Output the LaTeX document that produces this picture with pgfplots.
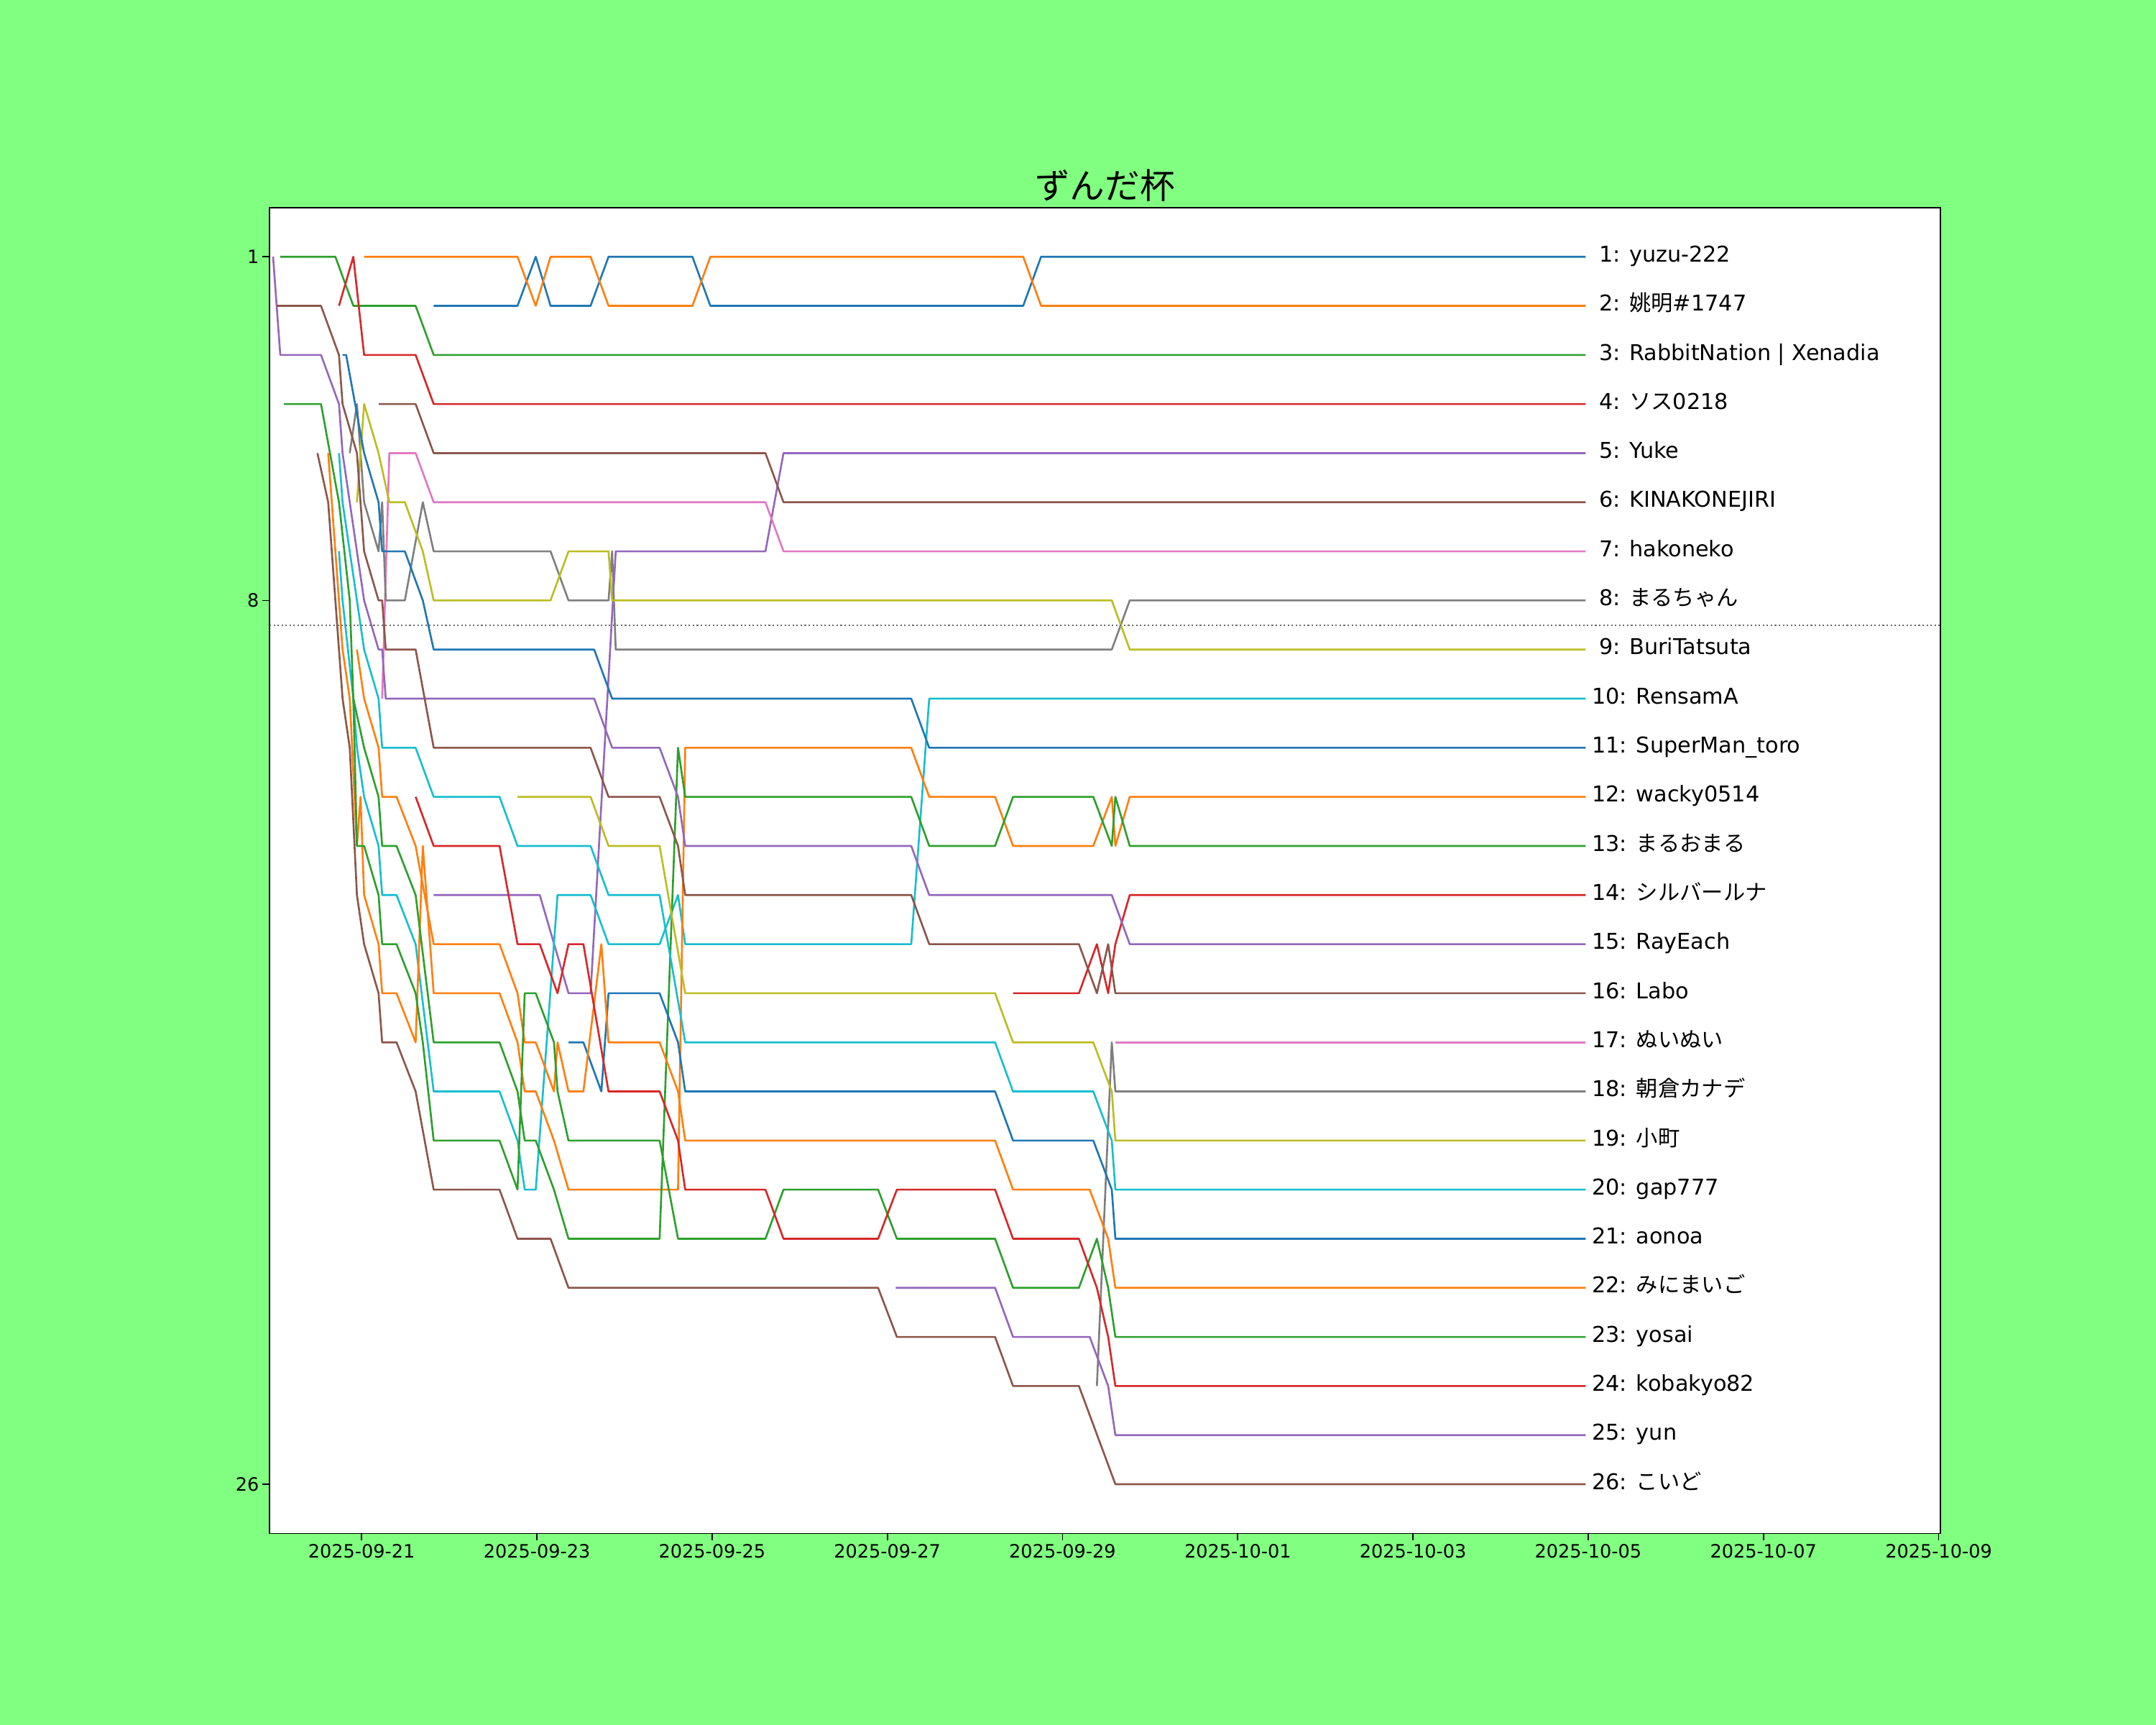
\documentclass[border=0pt]{standalone}
\usepackage{fontspec}
\setmainfont{DejaVu Sans}
\newfontfamily\cjk{Noto Sans CJK JP}
\usepackage{pgfplots}
\pgfplotsset{compat=1.18}
\definecolor{bgc}{HTML}{80FF80}
\definecolor{c0}{HTML}{1F77B4}
\definecolor{c1}{HTML}{FF7F0E}
\definecolor{c2}{HTML}{2CA02C}
\definecolor{c3}{HTML}{D62728}
\definecolor{c4}{HTML}{9467BD}
\definecolor{c5}{HTML}{8C564B}
\definecolor{c6}{HTML}{E377C2}
\definecolor{c7}{HTML}{7F7F7F}
\definecolor{c8}{HTML}{BCBD22}
\definecolor{c9}{HTML}{17BECF}
\newcommand{\lab}[2]{\node[anchor=base west, inner sep=0pt, font=\fontsize{10.9}{13}\selectfont, yshift=-2.6pt] at (axis cs:14.04,#1) {#2};}
\newcommand{\padsp}{\hspace*{0.318em}}
\begin{document}
\begin{tikzpicture}
\useasboundingbox (-135pt,-96pt) rectangle (945pt,768pt);
\fill[bgc] (-135pt,-96pt) rectangle (945pt,768pt);
\begin{axis}[
  at={(0pt,0pt)}, anchor=south west,
  scale only axis, width=837pt, height=664pt,
  xmin=-1.052, xmax=18.02, ymin=0, ymax=27, y dir=reverse,
  axis background/.style={fill=white},
  axis line style={line width=0.6pt},
  xtick={0,2,4,6,8,10,12,14,16,18},
  xticklabels={2025-09-21,2025-09-23,2025-09-25,2025-09-27,2025-09-29,2025-10-01,2025-10-03,2025-10-05,2025-10-07,2025-10-09},
  ytick={1,8,26}, yticklabels={1,8,26},
  tick align=outside, tick pos=left, major tick length=3.5pt,
  every tick/.style={black, line width=0.6pt},
  ticklabel style={font=\fontsize{9.2}{11}\selectfont},
  xticklabel style={yshift=1.5pt},
  yticklabel style={xshift=1.8pt},
  clip=false, no markers,
  every axis plot/.append style={line width=0.95pt, line join=round},
]
% 1 yuzu-222
\addplot[c0] coordinates {(0.822,2) (1.779,2) (1.987,1) (2.156,2) (2.613,2) (2.818,1) (3.775,1) (3.980,2) (7.551,2) (7.755,1) (13.97,1)};
% 2
\addplot[c1] coordinates {(0.028,1) (1.779,1) (1.987,2) (2.156,1) (2.613,1) (2.818,2) (3.775,2) (3.980,1) (7.551,1) (7.755,2) (13.97,2)};
% 3
\addplot[c2] coordinates {(-0.929,1) (-0.300,1) (-0.095,2) (0.616,2) (0.822,3) (13.97,3)};
% 4
\addplot[c3] coordinates {(-0.259,2) (-0.095,1) (0.028,3) (0.616,3) (0.822,4) (13.97,4)};
% 5 Yuke
\addplot[c4] coordinates {(0.822,14) (2.033,14) (2.361,16) (2.613,16) (2.900,7) (4.609,7) (4.815,5) (13.97,5)};
% 6 KINAKONEJIRI
\addplot[c5] coordinates {(0.193,4) (0.616,4) (0.822,5) (4.609,5) (4.815,6) (13.97,6)};
% 7 hakoneko
\addplot[c6] coordinates {(0.234,10) (0.316,5) (0.616,5) (0.822,6) (4.609,6) (4.815,7) (13.97,7)};
% 8 marucyan
\addplot[c7] coordinates {(-0.136,5) (-0.054,4) (0.028,6) (0.193,7) (0.234,6) (0.275,8) (0.493,8) (0.698,6) (0.822,7) (2.156,7) (2.361,8) (2.818,8) (2.859,7) (2.900,9) (8.562,9) (8.767,8) (13.97,8)};
% 9 BuriTatsuta
\addplot[c8] coordinates {(-0.054,6) (0.028,4) (0.193,5) (0.316,6) (0.493,6) (0.698,7) (0.822,8) (2.156,8) (2.361,7) (2.818,7) (2.859,8) (8.562,8) (8.767,9) (13.97,9)};
% 10 RensamA
\addplot[c9] coordinates {(-0.259,7) (-0.218,8) (-0.095,10) (-0.054,11) (0.028,12) (0.193,13) (0.234,14) (0.398,14) (0.616,15) (0.822,18) (1.574,18) (1.779,19) (1.861,20) (1.987,20) (2.236,14) (2.613,14) (2.818,15) (3.401,15) (3.611,14) (3.693,15) (6.273,15) (6.478,10) (13.97,10)};
% 11 SuperMan_toro
\addplot[c0] coordinates {(-0.218,3) (-0.177,3) (0.028,5) (0.193,6) (0.234,7) (0.493,7) (0.698,8) (0.822,9) (2.654,9) (2.859,10) (6.273,10) (6.478,11) (13.97,11)};
% 12 wacky0514
\addplot[c1] coordinates {(-0.382,5) (-0.218,9) (-0.136,10) (-0.054,13) (-0.013,12) (0.028,14) (0.193,15) (0.234,16) (0.398,16) (0.616,17) (0.698,13) (0.822,16) (1.574,16) (1.779,17) (1.861,18) (1.987,18) (2.195,19) (2.361,20) (3.611,20) (3.693,11) (6.273,11) (6.478,12) (7.230,12) (7.435,13) (8.351,13) (8.562,12) (8.603,13) (8.767,12) (13.97,12)};
% 13 maruomaru
\addplot[c2] coordinates {(-0.888,4) (-0.464,4) (-0.259,6) (-0.136,8) (-0.095,10) (0.028,11) (0.193,12) (0.234,13) (0.398,13) (0.616,14) (0.822,17) (1.574,17) (1.779,18) (1.861,19) (1.987,19) (2.195,20) (2.361,21) (3.401,21) (3.611,11) (3.693,12) (6.273,12) (6.478,13) (7.230,13) (7.435,12) (8.351,12) (8.562,13) (8.603,12) (8.767,13) (13.97,13)};
% 14 silver luna
\addplot[c3] coordinates {(7.435,16) (8.187,16) (8.392,15) (8.521,16) (8.603,15) (8.767,14) (13.97,14)};
% 15 RayEach
\addplot[c4] coordinates {(-1.011,1) (-0.929,3) (-0.464,3) (-0.259,4) (-0.218,5) (0.028,8) (0.193,9) (0.234,9) (0.275,10) (2.654,10) (2.859,11) (3.401,11) (3.611,12) (3.693,13) (6.273,13) (6.478,14) (8.562,14) (8.767,15) (13.97,15)};
% 16 Labo
\addplot[c5] coordinates {(-0.970,2) (-0.464,2) (-0.259,3) (-0.218,4) (-0.054,5) (0.028,7) (0.193,8) (0.234,8) (0.275,9) (0.616,9) (0.822,11) (2.613,11) (2.818,12) (3.401,12) (3.611,13) (3.693,14) (6.273,14) (6.478,15) (8.187,15) (8.392,16) (8.521,15) (8.603,16) (13.97,16)};
% 17 nuinui
\addplot[c6] coordinates {(8.603,17) (13.97,17)};
% 18 asakura
\addplot[c7] coordinates {(8.392,24) (8.562,17) (8.603,18) (13.97,18)};
% 19 komachi
\addplot[c8] coordinates {(1.779,12) (2.613,12) (2.818,13) (3.401,13) (3.693,16) (7.230,16) (7.435,17) (8.351,17) (8.562,18) (8.603,19) (13.97,19)};
% 20 gap777
\addplot[c9] coordinates {(-0.259,5) (-0.218,6) (0.028,9) (0.193,10) (0.234,11) (0.616,11) (0.822,12) (1.574,12) (1.779,13) (2.613,13) (2.818,14) (3.401,14) (3.693,17) (7.230,17) (7.435,18) (8.351,18) (8.562,19) (8.603,20) (13.97,20)};
% 21 aonoa
\addplot[c0] coordinates {(2.361,17) (2.531,17) (2.736,18) (2.818,16) (3.401,16) (3.611,17) (3.693,18) (7.230,18) (7.435,19) (8.351,19) (8.562,20) (8.603,21) (13.97,21)};
% 22 minimaigo
\addplot[c1] coordinates {(-0.054,9) (0.028,10) (0.193,11) (0.234,12) (0.398,12) (0.616,13) (0.822,15) (1.574,15) (1.779,16) (1.861,17) (1.987,17) (2.195,18) (2.236,17) (2.361,18) (2.531,18) (2.736,15) (2.818,17) (3.401,17) (3.611,18) (3.693,19) (7.230,19) (7.435,20) (8.310,20) (8.521,21) (8.603,22) (13.97,22)};
% 23 yosai
\addplot[c2] coordinates {(-0.095,10) (-0.054,13) (0.028,13) (0.193,14) (0.234,15) (0.398,15) (0.616,16) (0.698,17) (0.822,19) (1.574,19) (1.779,20) (1.861,16) (1.987,16) (2.195,17) (2.236,18) (2.361,19) (3.401,19) (3.611,21) (4.609,21) (4.815,20) (5.895,20) (6.109,21) (7.230,21) (7.435,22) (8.187,22) (8.392,21) (8.521,22) (8.603,23) (13.97,23)};
% 24 kobakyo82
\addplot[c3] coordinates {(0.616,12) (0.822,13) (1.574,13) (1.779,15) (2.033,15) (2.236,16) (2.361,15) (2.531,15) (2.818,18) (3.401,18) (3.611,19) (3.693,20) (4.609,20) (4.815,21) (5.895,21) (6.109,20) (7.230,20) (7.435,21) (8.187,21) (8.392,22) (8.521,23) (8.603,24) (13.97,24)};
% 25 yun
\addplot[c4] coordinates {(6.095,22) (7.230,22) (7.435,23) (8.310,23) (8.521,24) (8.603,25) (13.97,25)};
% 26 koido
\addplot[c5] coordinates {(-0.505,5) (-0.382,6) (-0.218,10) (-0.136,11) (-0.054,14) (0.028,15) (0.193,16) (0.234,17) (0.398,17) (0.616,18) (0.822,20) (1.574,20) (1.779,21) (2.156,21) (2.361,22) (5.895,22) (6.109,23) (7.230,23) (7.435,24) (8.187,24) (8.603,26) (13.97,26)};
% cut line
\addplot[color=gray!85!black, line width=0.75pt, dash pattern=on 0.75pt off 1.25pt] coordinates {(-1.052,8.5) (18.02,8.5)};
\lab{1}{\padsp 1: yuzu-222}
\lab{2}{\padsp 2: {\cjk 姚明}\#1747}
\lab{3}{\padsp 3: RabbitNation | Xenadia}
\lab{4}{\padsp 4: {\cjk ソス}0218}
\lab{5}{\padsp 5: Yuke}
\lab{6}{\padsp 6: KINAKONEJIRI}
\lab{7}{\padsp 7: hakoneko}
\lab{8}{\padsp 8: {\cjk まるちゃん}}
\lab{9}{\padsp 9: BuriTatsuta}
\lab{10}{10: RensamA}
\lab{11}{11: SuperMan\_toro}
\lab{12}{12: wacky0514}
\lab{13}{13: {\cjk まるおまる}}
\lab{14}{14: {\cjk シルバールナ}}
\lab{15}{15: RayEach}
\lab{16}{16: Labo}
\lab{17}{17: {\cjk ぬいぬい}}
\lab{18}{18: {\cjk 朝倉カナデ}}
\lab{19}{19: {\cjk 小町}}
\lab{20}{20: gap777}
\lab{21}{21: aonoa}
\lab{22}{22: {\cjk みにまいご}}
\lab{23}{23: yosai}
\lab{24}{24: kobakyo82}
\lab{25}{25: yun}
\lab{26}{26: {\cjk こいど}}
\node[anchor=base, inner sep=0pt, font=\cjk\fontsize{17.5}{20}\selectfont, yshift=4.5pt] at (rel axis cs:0.5,1) {ずんだ杯};
\end{axis}
\end{tikzpicture}
\end{document}
